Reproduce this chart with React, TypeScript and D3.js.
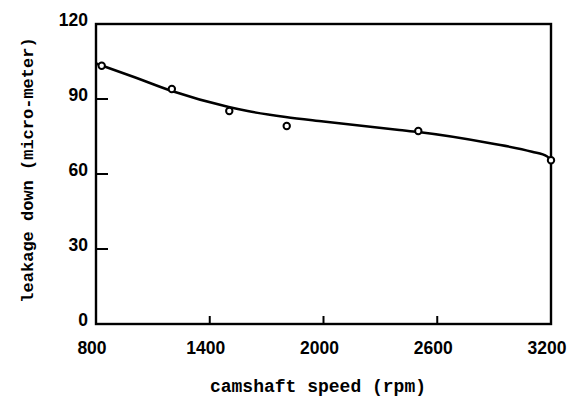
import React from "react";
import * as d3 from "d3";

const xTicks = [800, 1400, 2000, 2600, 3200];
const yTicks = [0, 30, 60, 90, 120];
const innerYTicks = [30, 60, 90];
const innerXTicks = [1400, 2000, 2600];

// measured data points
const pointX = [830, 1200, 1503, 1806, 2500, 3200];
const pointY = [103.3, 94.0, 85.2, 79.2, 77.2, 65.5];

// fitted curve
const curveX = [800, 830, 1000, 1200, 1500, 1600, 1800, 2000, 2400, 2500, 2880, 3100, 3180, 3200];
const curveY = [104.2, 103.4, 98.8, 93.2, 86.8, 85.2, 82.8, 81.0, 77.6, 76.8, 72.3, 68.9, 67.0, 65.5];

const W = 577;
const H = 399;
const L = 96, R = 551, T = 24, B = 324;

export default function App() {
  const x = d3.scaleLinear().domain([800, 3200]).range([L, R]);
  const y = d3.scaleLinear().domain([0, 120]).range([B, T]);
  const line = d3
    .line<number>()
    .x((_, i) => x(curveX[i]))
    .y((d) => y(d))
    .curve(d3.curveMonotoneX);
  const font = "'Liberation Mono', 'DejaVu Sans Mono', monospace";
  const numFont = "'Liberation Sans', Arial, sans-serif";
  return (
    <svg
      width={W}
      height={H}
      style={{ position: "absolute", left: 0, top: 0, background: "#fff" }}
    >
      <rect x={L} y={T} width={R - L} height={B - T} fill="none" stroke="#000" strokeWidth={2.4} />
      {innerYTicks.map((t) => (
        <line key={"yt" + t} x1={L} x2={L + 12} y1={y(t)} y2={y(t)} stroke="#000" strokeWidth={2} />
      ))}
      {innerXTicks.map((t) => (
        <line key={"xt" + t} x1={x(t)} x2={x(t)} y1={B} y2={B - 8} stroke="#000" strokeWidth={2} />
      ))}
      {yTicks.map((t) => (
        <text
          key={"yl" + t}
          x={88}
          y={y(t) - 4.5}
          textAnchor="end"
          dominantBaseline="central"
          fontFamily={numFont}
          fontSize={17.5}
          fontWeight="bold"
          fill="#000"
        >
          {t}
        </text>
      ))}
      {xTicks.map((t) => (
        <text
          key={"xl" + t}
          x={x(t) - 4}
          y={348}
          textAnchor="middle"
          dominantBaseline="central"
          fontFamily={numFont}
          fontSize={17.5}
          fontWeight="bold"
          fill="#000"
        >
          {t}
        </text>
      ))}
      <path d={line(curveY) || ""} fill="none" stroke="#000" strokeWidth={2.5} />
      {pointX.map((px, i) => (
        <circle key={"p" + i} cx={x(px)} cy={y(pointY[i])} r={3.2} fill="#fff" stroke="#000" strokeWidth={2} />
      ))}
      <text
        x={318}
        y={392}
        textAnchor="middle"
        fontFamily={font}
        fontSize={18}
        fontWeight="bold"
        fill="#000"
      >
        camshaft speed (rpm)
      </text>
      <text
        transform="translate(33,170) rotate(-90)"
        textAnchor="middle"
        fontFamily={font}
        fontSize={17}
        fontWeight="bold"
        fill="#000"
      >
        leakage down (micro-meter)
      </text>
    </svg>
  );
}
